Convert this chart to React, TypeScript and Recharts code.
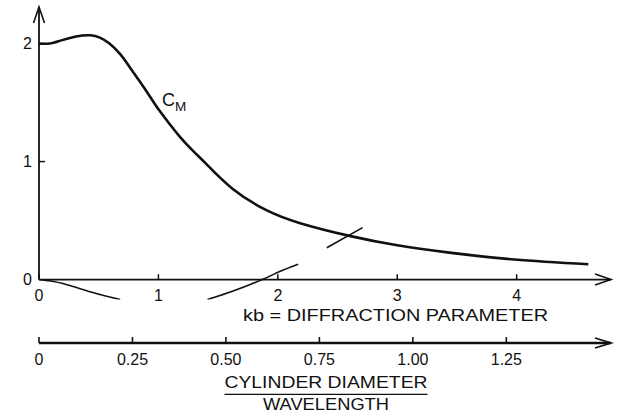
import React from 'react';
import { ComposedChart, Line, XAxis, YAxis, ReferenceLine, ReferenceDot } from 'recharts';

// ---- data ----
const KB_MAX = 4.79;
const DL_MAX = 1.53;
const Y_MIN = -0.17;
const Y_MAX = 2.31;

const cmKb = [0, 0.09, 0.18, 0.31, 0.43, 0.51, 0.59, 0.68, 0.76, 0.85, 0.93, 1.01, 1.1, 1.18, 1.29, 1.4, 1.62, 1.9, 2.18, 2.6, 3.0, 3.42, 3.98, 4.6];
const cmValues = [2.0, 2.0, 2.025, 2.06, 2.07, 2.05, 2.0, 1.91, 1.8, 1.67, 1.55, 1.43, 1.31, 1.21, 1.09, 0.98, 0.77, 0.59, 0.48, 0.37, 0.29, 0.23, 0.17, 0.13];

const lowerKb = [0, 0.2, 0.45, 0.68, 1.0, 1.41, 1.62, 1.87, 2.02, 2.17, 2.29, 2.41, 2.71];
const lowerValues: (number | null)[] = [0, -0.034, -0.11, -0.17, null, -0.17, -0.1, 0.0, 0.07, 0.13, null, 0.27, 0.44];

const kbTicks = [0, 1, 2, 3, 4];
const yTicks = [0, 1, 2];
const yTickMarks = [1, 2];
const dlTicks = [0, 0.25, 0.5, 0.75, 1.0, 1.25];
const dlTickLabels = ['0', '0.25', '0.50', '0.75', '1.00', '1.25'];

const kbTitle = 'kb = DIFFRACTION PARAMETER';
const dlTitleTop = 'CYLINDER DIAMETER';
const dlTitleBottom = 'WAVELENGTH';
const cmLabelMain = 'C';
const cmLabelSub = 'M';
const cmLabelAt = { kb: 1.03, y: 1.47 };

const cmData = cmKb.map((kb, i) => ({ kb, cm: cmValues[i] }));
const lowerData = lowerKb.map((kb, i) => ({ kb, v: lowerValues[i] }));
// extent of the second (D/L) axis, carried by an empty series so the axis gets a scale
const dlExtentData = [0, DL_MAX].map((dl) => ({ dl, none: null }));

// ---- styles ----
const FONT = '"Liberation Sans", Arial, Helvetica, sans-serif';
const INK = '#111';

const renderArrowLine = (props: any) => {
  const { x1, y1, x2, y2 } = props;
  const dx = x2 - x1;
  const dy = y2 - y1;
  const len = Math.hypot(dx, dy) || 1;
  const ux = dx / len;
  const uy = dy / len;
  const back = 16;
  const half = 5.5;
  const bx = x2 - ux * back;
  const by = y2 - uy * back;
  const px = -uy;
  const py = ux;
  return (
    <g>
      <line x1={x1} y1={y1} x2={x2} y2={y2} stroke={INK} strokeWidth={1.8} />
      <polyline
        points={`${bx + px * half},${by + py * half} ${x2},${y2} ${bx - px * half},${by - py * half}`}
        fill="none"
        stroke={INK}
        strokeWidth={1.6}
      />
    </g>
  );
};

const renderTickMark = (props: any) => {
  const { x1, y1, x2, y2 } = props;
  return <line x1={x1} y1={y1} x2={x2} y2={y2} stroke={INK} strokeWidth={1.5} />;
};

const KbLabel = (props: any) => {
  const vb = props.viewBox || { x: 39, y: 299.6, width: 572, height: 43.4 };
  return (
    <text
      x={vb.x + 204}
      y={vb.y + 21.4}
      fontSize={16.5}
      fontFamily={FONT}
      fill={INK}
      textLength={305}
      lengthAdjust="spacingAndGlyphs"
    >
      {kbTitle}
    </text>
  );
};

const DlLabel = (props: any) => {
  const vb = props.viewBox || { x: 39, y: 343, width: 572, height: 70 };
  const cx = vb.x + vb.width / 2 + 1;
  return (
    <g>
      <text
        x={cx - 101.5}
        y={vb.y + 45}
        fontSize={16.3}
        fontFamily={FONT}
        fill={INK}
        textLength={203}
        lengthAdjust="spacingAndGlyphs"
      >
        {dlTitleTop}
      </text>
      <line x1={cx - 101.5} y1={vb.y + 51.3} x2={cx + 101.5} y2={vb.y + 51.3} stroke={INK} strokeWidth={1.3} />
      <text
        x={cx - 63}
        y={vb.y + 67}
        fontSize={16.3}
        fontFamily={FONT}
        fill={INK}
        textLength={126}
        lengthAdjust="spacingAndGlyphs"
      >
        {dlTitleBottom}
      </text>
    </g>
  );
};

const DlTick = (props: any) => {
  const { x, y, payload } = props;
  const v = payload.value;
  if (v >= DL_MAX - 1e-9) {
    return (
      <polyline
        points={`${x - 16},${y - 5} ${x},${y} ${x - 16},${y + 5}`}
        fill="none"
        stroke={INK}
        strokeWidth={1.8}
      />
    );
  }
  const idx = dlTicks.findIndex((t) => Math.abs(t - v) < 1e-9);
  return (
    <g>
      <line x1={x} y1={y - 6} x2={x} y2={y} stroke={INK} strokeWidth={1.6} />
      <text x={x} y={y + 21.5} textAnchor="middle" fontSize={16} fontFamily={FONT} fill={INK}>
        {dlTickLabels[idx]}
      </text>
    </g>
  );
};

const renderCmLabel = (props: any) => {
  const { cx, cy } = props;
  return (
    <text x={cx} y={cy} fontSize={18} fontFamily={FONT} fill={INK}>
      {cmLabelMain}
      <tspan fontSize={13.5} dy={5}>
        {cmLabelSub}
      </tspan>
    </text>
  );
};

export default function App() {
  return (
    <div style={{ position: 'absolute', left: 0, top: 0, width: 618, height: 413, background: '#fff' }}>
      <ComposedChart width={618} height={413} margin={{ top: 7, right: 7, left: 0, bottom: 0 }}>
        <XAxis
          xAxisId="a_kb"
          type="number"
          dataKey="kb"
          domain={[0, KB_MAX]}
          allowDataOverflow
          height={43.4}
          axisLine={false}
          tickLine={false}
          tick={false}
          label={<KbLabel />}
        />
        <XAxis
          xAxisId="b_dl"
          type="number"
          dataKey="dl"
          domain={[0, DL_MAX]}
          allowDataOverflow
          ticks={[...dlTicks, DL_MAX]}
          interval={0}
          height={70}
          tickSize={0}
          tickMargin={0}
          axisLine={{ stroke: INK, strokeWidth: 2.5 }}
          tickLine={false}
          tick={<DlTick />}
          label={<DlLabel />}
        />
        <YAxis
          type="number"
          domain={[Y_MIN, Y_MAX]}
          allowDataOverflow
          ticks={yTicks}
          interval={0}
          width={39}
          axisLine={false}
          tickLine={false}
          tickSize={0}
          tickMargin={7}
          tick={{ fill: INK, fontSize: 16, fontFamily: FONT }}
        />

        {/* axes with arrowheads */}
        <ReferenceLine
          xAxisId="a_kb"
          segment={[{ x: 0, y: 0 }, { x: 0, y: Y_MAX }]}
          shape={renderArrowLine}
          ifOverflow="visible"
        />
        <ReferenceLine
          xAxisId="a_kb"
          segment={[{ x: 0, y: 0 }, { x: KB_MAX, y: 0 }]}
          shape={renderArrowLine}
          ifOverflow="visible"
        />

        {/* kb tick marks and labels */}
        {kbTicks.map((t) => (
          <ReferenceLine
            key={`kb-${t}`}
            xAxisId="a_kb"
            segment={[{ x: t, y: 0 }, { x: t, y: 0.045 }]}
            shape={renderTickMark}
            ifOverflow="visible"
            label={{ value: String(t), position: 'bottom', offset: 10, fill: INK, fontSize: 16, fontFamily: FONT }}
          />
        ))}

        {/* y tick marks */}
        {yTickMarks.map((t) => (
          <ReferenceLine
            key={`y-${t}`}
            xAxisId="a_kb"
            segment={[{ x: 0, y: t }, { x: 0.05, y: t }]}
            shape={renderTickMark}
            ifOverflow="visible"
          />
        ))}

        <Line
          xAxisId="b_dl"
          data={dlExtentData}
          dataKey="none"
          stroke="none"
          dot={false}
          activeDot={false}
          legendType="none"
          isAnimationActive={false}
        />
        <Line
          xAxisId="a_kb"
          data={cmData}
          dataKey="cm"
          type="natural"
          stroke={INK}
          strokeWidth={2.6}
          dot={false}
          activeDot={false}
          isAnimationActive={false}
        />
        <Line
          xAxisId="a_kb"
          data={lowerData}
          dataKey="v"
          type="natural"
          stroke={INK}
          strokeWidth={1.6}
          dot={false}
          activeDot={false}
          connectNulls={false}
          isAnimationActive={false}
        />

        <ReferenceDot
          xAxisId="a_kb"
          x={cmLabelAt.kb}
          y={cmLabelAt.y}
          r={0}
          shape={renderCmLabel}
          ifOverflow="visible"
        />
      </ComposedChart>
    </div>
  );
}
